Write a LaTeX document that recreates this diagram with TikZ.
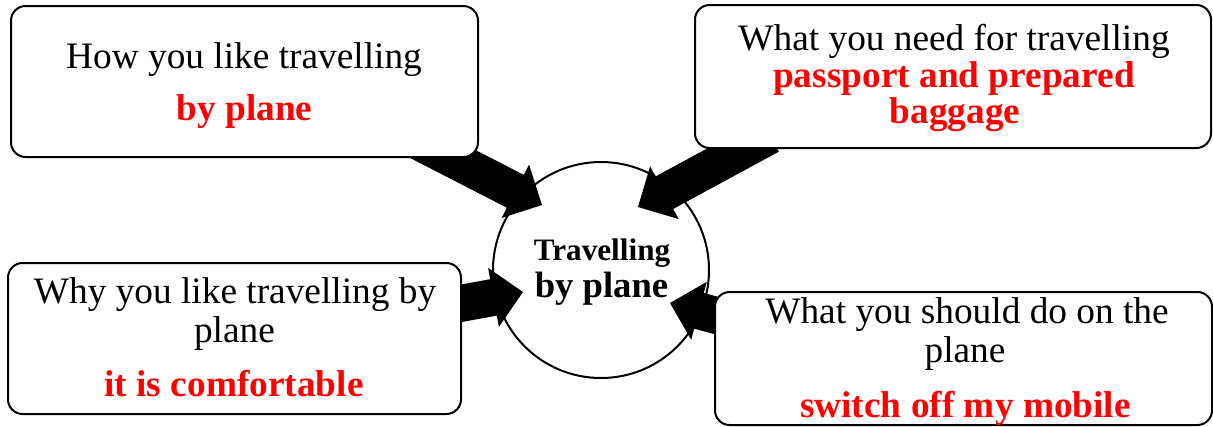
\documentclass[tikz,border=0pt]{standalone}
\usepackage{fontspec}
\setmainfont{Liberation Serif}
\usetikzlibrary{calc}
\definecolor{ansred}{RGB}{255,0,0}
\newcommand{\fatarrow}[2]{%
  \coordinate (#2-h) at ($(#2)!22.5pt!(#1)$);
  \fill[arrowfill] ($(#1)!13.875pt!90:(#2)$) -- ($(#2-h)!13.875pt!90:(#2)$)
    -- ($(#2-h)!22.5pt!90:(#2)$) -- (#2) -- ($(#2-h)!22.5pt!-90:(#2)$)
    -- ($(#2-h)!13.875pt!-90:(#2)$) -- ($(#1)!13.875pt!-90:(#2)$) -- cycle;
}
\begin{document}
\begin{tikzpicture}[x=0.75pt,y=-0.75pt,
  box/.style={draw, line width=1.5pt, rounded corners=11pt, fill=white, inner sep=0pt},
  hub/.style={draw, circle, line width=1.5pt, fill=white, inner sep=0pt, minimum size=162pt},
  txt/.style={anchor=base, inner sep=0pt, font=\fontsize{28}{32}\selectfont},
  ans/.style={anchor=base, inner sep=0pt, font=\fontsize{28}{32}\selectfont\bfseries, text=ansred},
  hubtxt/.style={anchor=base, inner sep=0pt},
  arrowfill/.style={fill=black}]
\useasboundingbox (0,0) rectangle (1213,426);

% central circle
\node[hub] (c) at (601,270) {};

% arrow end points
\coordinate (s1) at (408.6,136.4); \coordinate (e1) at (542,205);
\coordinate (s2) at (770,135.4);   \coordinate (e2) at (638,207);
\coordinate (s3) at (424.6,310);   \coordinate (e3) at (523,292);
\coordinate (s4) at (766.5,329);   \coordinate (e4) at (670,303);
\fatarrow{s1}{e1}
\fatarrow{s2}{e2}
\fatarrow{s3}{e3}
\fatarrow{s4}{e4}

% boxes
\node[box, minimum width=350.25pt, minimum height=113.25pt] (b1) at (244.5,81.5) {};
\node[box, minimum width=387pt, minimum height=107.25pt] (b2) at (953,76.5) {};
\node[box, minimum width=339.75pt, minimum height=113.25pt] (b3) at (234.5,338.5) {};
\node[box, minimum width=372.75pt, minimum height=99.75pt] (b4) at (963.5,358.5) {};

% texts
\node[txt] (q1) at (244,68) {How you like travelling};
\node[ans] (a1) at (244.5,120) {by plane};
\node[txt] (q2) at (954,50) {What you need for travelling};
\node[ans] (a2) at (954,87) {passport and prepared};
\node[ans] (a2b) at (955,123) {baggage};
\node[txt] (q3) at (235,303) {Why you like travelling by};
\node[txt] (q3b) at (234.5,342) {plane};
\node[ans] (a3) at (234,396) {it is comfortable};
\node[txt] (q4) at (967,323) {What you should do on the};
\node[txt] (q4b) at (965,362) {plane};
\node[ans] (a4) at (965.5,417) {switch off my mobile};
\node[hubtxt, font=\fontsize{23.4}{26}\selectfont\bfseries] (c1) at (602,260) {Travelling};
\node[hubtxt, font=\fontsize{27.5}{30}\selectfont\bfseries] (c2) at (601.5,297) {by plane};
\end{tikzpicture}
\end{document}
